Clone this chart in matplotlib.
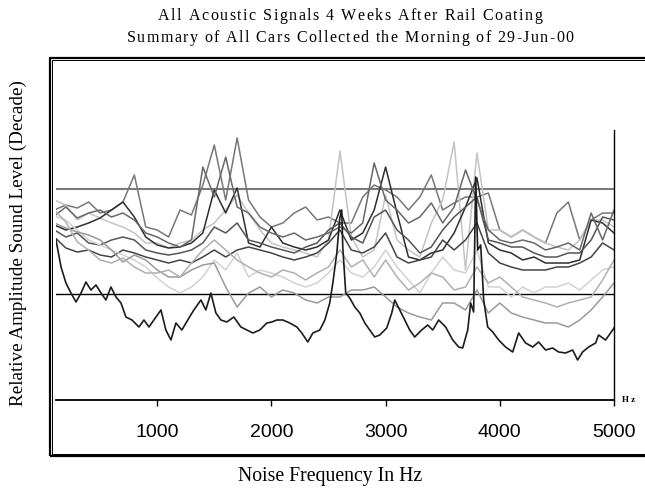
import numpy as np
import matplotlib
matplotlib.use('Agg')
import matplotlib.pyplot as plt
from matplotlib.patches import Rectangle
from matplotlib import font_manager, ft2font

# frequency grid (Hz) shared by the grey traces
freq = np.arange(100, 5001, 100)

# relative level of each car trace (arbitrary units, 0 = axis)
car_1 = [190, 195, 192, 198, 187, 190, 198, 225, 173, 170, 163, 190, 185, 215, 255, 200, 262, 200,
         183, 173, 177, 187, 193, 180, 183, 177, 177, 203, 215, 210, 203, 190, 203, 225, 190, 197,
         203, 203, 207, 170, 163, 170, 163, 157, 187, 198, 160, 180, 187, 187]
car_2 = [200, 195, 180, 187, 182, 177, 173, 167, 157, 157, 152, 157, 160, 170, 177, 190, 205, 187,
         170, 157, 153, 150, 147, 143, 160, 249, 163, 143, 150, 205, 160, 150, 143, 177, 200, 258,
         130, 247, 170, 170, 163, 170, 163, 157, 153, 150, 160, 180, 180, 173]
car_3 = [175, 170, 173, 177, 182, 190, 198, 183, 163, 155, 152, 153, 157, 167, 210, 187, 212, 157,
         153, 173, 157, 153, 150, 153, 160, 190, 160, 167, 190, 233, 187, 143, 140, 147, 150, 167,
         193, 222, 157, 150, 147, 140, 143, 137, 137, 137, 140, 180, 177, 167]
car_4 = [170, 163, 167, 157, 155, 160, 163, 160, 150, 147, 145, 147, 150, 157, 173, 167, 177, 160,
         157, 153, 150, 147, 153, 157, 170, 177, 163, 157, 183, 190, 170, 160, 147, 153, 170, 183,
         193, 203, 160, 157, 153, 153, 147, 143, 143, 147, 147, 160, 183, 180]
car_5 = [163, 152, 148, 150, 145, 143, 150, 147, 143, 140, 137, 140, 137, 143, 150, 143, 150, 153,
         150, 147, 143, 140, 143, 147, 157, 170, 150, 147, 153, 167, 143, 137, 140, 143, 160, 150,
         160, 177, 147, 137, 133, 130, 130, 130, 133, 133, 137, 143, 157, 150]
car_6 = [184, 193, 182, 187, 190, 183, 187, 180, 167, 163, 157, 153, 160, 233, 203, 243, 193, 187,
         173, 167, 163, 167, 160, 163, 167, 173, 167, 177, 237, 200, 190, 177, 183, 197, 177, 193,
         230, 200, 170, 160, 157, 160, 157, 150, 153, 157, 150, 187, 160, 190]
car_7 = [184, 180, 170, 160, 155, 150, 145, 140, 133, 122, 113, 107, 113, 123, 140, 130, 147, 123,
         130, 127, 123, 117, 113, 117, 127, 140, 127, 123, 133, 150, 133, 120, 107, 127, 143, 130,
         127, 150, 113, 113, 103, 113, 107, 113, 113, 117, 110, 120, 130, 133]
car_8 = [177, 172, 168, 165, 160, 150, 138, 145, 140, 130, 123, 123, 130, 135, 137, 113, 93, 107,
         113, 103, 110, 107, 100, 97, 103, 103, 110, 110, 113, 103, 93, 87, 83, 80, 97, 97,
         90, 110, 87, 97, 87, 83, 80, 77, 77, 73, 80, 90, 103, 117]
car_9 = [190, 178, 158, 150, 140, 137, 142, 133, 127, 127, 130, 123, 137, 150, 160, 150, 140, 133,
         127, 123, 130, 127, 120, 127, 133, 150, 133, 140, 123, 140, 123, 110, 117, 127, 123, 110,
         113, 133, 117, 123, 113, 103, 100, 97, 93, 97, 100, 103, 120, 140]

# darkest trace, read at finer spacing
freq_low = [114, 158, 201, 245, 289, 333, 376, 420, 464, 508, 551, 595, 639, 683, 726, 779, 840, 884,
            928, 971, 1033, 1076, 1120, 1164, 1216, 1278, 1321, 1383, 1426, 1470, 1514, 1558, 1610,
            1671, 1733, 1785, 1838, 1899, 1960, 2004, 2048, 2100, 2161, 2223, 2266, 2319, 2363,
            2424, 2468, 2511, 2538, 2573, 2599, 2616, 2625, 2651, 2686, 2730, 2774, 2818, 2861,
            2905, 2949, 3010, 3054, 3080, 3124, 3168, 3211, 3255, 3316, 3369, 3413, 3465, 3526,
            3588, 3640, 3675, 3719, 3745, 3771, 3789, 3806, 3833, 3859, 3894, 3938, 3990, 4051,
            4113, 4165, 4226, 4288, 4340, 4401, 4463, 4515, 4576, 4638, 4681, 4725, 4778, 4839,
            4865, 4926, 4970, 5000]
level_low = [160, 133, 117, 107, 98, 107, 118, 110, 115, 107, 100, 113, 103, 97, 83, 80, 73, 80,
             73, 80, 90, 70, 60, 77, 70, 82, 90, 100, 90, 107, 87, 80, 78,
             83, 73, 70, 67, 70, 77, 78, 80, 80, 77, 73, 67, 58, 67,
             70, 80, 97, 117, 147, 182, 190, 153, 107, 102, 93, 87, 77, 70,
             63, 65, 72, 87, 100, 90, 80, 70, 63, 70, 75, 70, 80, 73,
             60, 53, 52, 70, 97, 88, 223, 150, 155, 100, 73, 68, 60, 53,
             48, 67, 57, 53, 58, 50, 52, 48, 47, 50, 40, 48, 53, 57,
             65, 60, 67, 72]

cars = [car_1, car_2, car_3, car_4, car_5, car_6, car_7, car_8, car_9]
shades = ['#777777', '#c4c4c4', '#2e2e2e', '#555555', '#444444', '#686868', '#d2d2d2', '#9a9a9a', '#b0b0b0']

ref_levels = [211, 106]
xticks = [1000, 2000, 3000, 4000, 5000]

W, H = 645, 491
fig = plt.figure(figsize=(W/100, H/100), dpi=100)
ax = fig.add_axes([56/W, 1-400/H, (614-56)/W, 270/H])

# reference lines
ax.axhline(ref_levels[0], color='#7a7a7a', lw=1.5, zorder=1)
ax.axhline(ref_levels[1], color='black', lw=1.0, zorder=1)

for lev, c in zip(cars, shades):
    ax.plot(freq, lev, color=c, lw=1.1, zorder=2)
ax.plot(freq_low, level_low, color='#1c1c1c', lw=1.2, zorder=3)

ax.set_xlim(114, 5000)
ax.set_ylim(0, 270)
ax.spines['left'].set_visible(False)
ax.spines['top'].set_visible(False)
ax.spines['bottom'].set_linewidth(1.3)
ax.spines['right'].set_linewidth(1.0)
ax.set_yticks([])
ax.set_xticks(xticks)
ax.set_xticklabels([str(t) for t in xticks], family='Liberation Sans', fontsize=14)
ax.tick_params(axis='x', direction='out', length=4, width=1, pad=13)
ax.text(1.015, 0.0, 'H z', transform=ax.transAxes, family='Liberation Serif',
        fontsize=6.5, fontweight='bold', va='center', ha='left')

# title is letter-spaced: place it char by char on a common baseline
serif = font_manager.findfont(font_manager.FontProperties(family='Liberation Serif'))
def spaced_title(s, cx, base, size, track):
    ft = ft2font.FT2Font(serif)
    ft.set_size(size, 100)
    adv = [ft.load_char(ord(ch)).linearHoriAdvance/65536 for ch in s]
    total = sum(adv) + track*(len(s)-1)
    x = cx - total/2
    for ch, a in zip(s, adv):
        fig.text(x/W, 1-base/H, ch, family='Liberation Serif', fontsize=size, ha='left', va='baseline')
        x += a + track

spaced_title('All Acoustic Signals 4 Weeks After Rail Coating', 350, 20, 11.5, 1.5)
spaced_title('Summary of All Cars Collected the Morning of 29-Jun-00', 350, 42, 11.5, 1.4)

fig.text(18/W, 1-243/H, 'Relative Amplitude Sound Level (Decade)',
         family='Liberation Serif', fontsize=13.8, rotation=90, ha='center', va='center')
fig.text(330/W, 1-477/H, 'Noise Frequency In Hz',
         family='Liberation Serif', fontsize=14.2, ha='center', va='center')

# double frame round the plot area
fig.patches.append(Rectangle((49.7/W, 1-456.3/H), 1.0, (456.3-57.7)/H, fill=False,
                             edgecolor='black', lw=1.6, transform=fig.transFigure))
fig.patches.append(Rectangle((52.3/W, 1-453.8/H), 1.0, (453.8-60.2)/H, fill=False,
                             edgecolor='black', lw=0.7, transform=fig.transFigure))

fig.savefig('out.png', dpi=100)
